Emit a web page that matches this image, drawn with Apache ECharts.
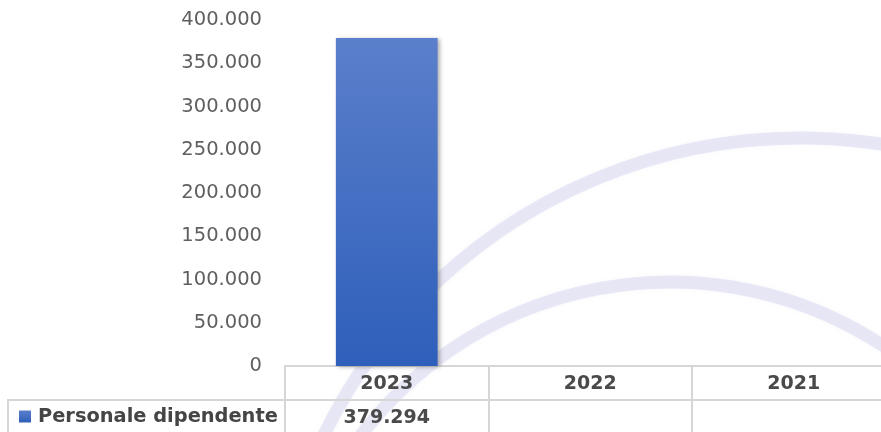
<!DOCTYPE html>
<html>
<head>
<meta charset="utf-8">
<script src="https://cdn.jsdelivr.net/npm/echarts@6/dist/echarts.min.js"></script>
<style>
html,body{margin:0;padding:0;background:#fff;overflow:hidden;width:881px;height:432px;}
#c{width:896px;height:432px;}
</style>
</head>
<body>
<div id="c"></div>
<script>
const categories = ['2023', '2022', '2021'];
const seriesName = 'Personale dipendente';
const values = [379294, null, null];
const yTicks = { min: 0, max: 400000, interval: 50000 };

function fmtIt(v) {
  if (v === null || v === undefined) return '';
  const s = String(Math.round(v));
  return s.replace(/\B(?=(\d{3})+(?!\d))/g, '.');
}

const FONT = 'DejaVu Sans';
const chart = echarts.init(document.getElementById('c'), null, { renderer: 'canvas' });

const wm = 'rgba(190,186,228,0.3)';
chart.setOption({
  backgroundColor: '#ffffff',
  animation: false,
  graphic: [
    { type: 'arc', z: -10, silent: true,
      shape: { cx: 800, cy: 668, r: 530, startAngle: -2.75, endAngle: -1.1 },
      style: { stroke: wm, lineWidth: 13, fill: null, shadowBlur: 5, shadowColor: wm } },
    { type: 'arc', z: -10, silent: true,
      shape: { cx: 670, cy: 670, r: 388, startAngle: -2.6, endAngle: -0.75 },
      style: { stroke: wm, lineWidth: 13, fill: null, shadowBlur: 5, shadowColor: wm } },
    { type: 'polyline', z: 5, silent: true,
      shape: { points: [[8, 440], [8, 400], [896, 400]] },
      style: { stroke: '#d6d6d6', lineWidth: 2, fill: null } }
  ],
  legend: {
    data: [seriesName],
    left: 8,
    top: 407,
    padding: [0, 0, 0, 11],
    icon: 'rect',
    itemWidth: 12,
    itemHeight: 12,
    itemGap: 6,
    textStyle: { fontFamily: FONT, fontSize: 19.4, fontWeight: 'bold', color: '#454545', padding: [0, 0, 0, 2] }
  },
  grid: { left: 285, top: 20, right: 0.5, bottom: 66, containLabel: false, outerBoundsMode: 'none' },
  xAxis: {
    type: 'category',
    data: categories,
    axisLine: { show: true, lineStyle: { color: '#d6d6d6', width: 2 } },
    axisTick: { show: true, interval: 0, length: 66, lineStyle: { color: '#d6d6d6', width: 2 } },
    axisLabel: {
      interval: 0,
      margin: 1,
      formatter: function (val, idx) {
        return '{y|' + val + '}\n{v|' + (fmtIt(values[idx]) || ' ') + '}';
      },
      rich: {
        y: { fontFamily: FONT, fontSize: 19, fontWeight: 'bold', color: '#4a4a4a', lineHeight: 34, height: 34 },
        v: { fontFamily: FONT, fontSize: 19, fontWeight: 'bold', color: '#4a4a4a', lineHeight: 34, height: 34 }
      }
    }
  },
  yAxis: {
    type: 'value',
    min: yTicks.min,
    max: yTicks.max,
    interval: yTicks.interval,
    axisLine: { show: false },
    axisTick: { show: false },
    splitLine: { show: false },
    axisLabel: {
      margin: 23,
      padding: [4, 0, 0, 0],
      fontFamily: FONT,
      fontSize: 19.5,
      color: '#5f5f5f',
      formatter: fmtIt
    }
  },
  series: [{
    name: seriesName,
    type: 'bar',
    data: values,
    barWidth: '50%',
    itemStyle: {
      color: new echarts.graphic.LinearGradient(0, 0, 0, 1, [
        { offset: 0, color: '#5b7fcb' },
        { offset: 1, color: '#2e5fba' }
      ]),
      shadowColor: 'rgba(0,0,0,0.3)',
      shadowBlur: 4,
      shadowOffsetX: 2,
      shadowOffsetY: 1
    }
  }]
});
</script>
</body>
</html>
